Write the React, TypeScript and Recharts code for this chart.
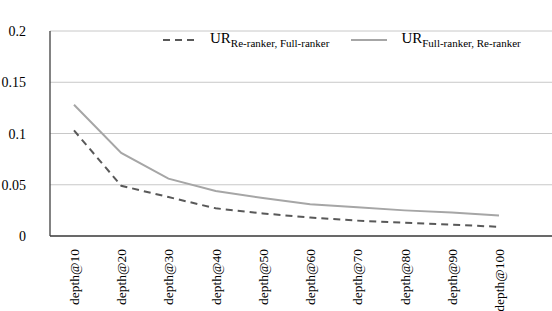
import React from "react";
import {
  LineChart,
  Line,
  XAxis,
  YAxis,
  CartesianGrid,
  Legend,
} from "recharts";

const depths = [
  "depth@10",
  "depth@20",
  "depth@30",
  "depth@40",
  "depth@50",
  "depth@60",
  "depth@70",
  "depth@80",
  "depth@90",
  "depth@100",
];

// UR_{Re-ranker, Full-ranker} (dashed)
const urReFull = [0.103, 0.049, 0.038, 0.027, 0.022, 0.018, 0.015, 0.013, 0.011, 0.009];
// UR_{Full-ranker, Re-ranker} (solid)
const urFullRe = [0.128, 0.081, 0.056, 0.044, 0.037, 0.031, 0.028, 0.025, 0.023, 0.02];

const yTicks = [0, 0.05, 0.1, 0.15, 0.2];

const data = depths.map((d, i) => ({
  depth: d,
  reFull: urReFull[i],
  fullRe: urFullRe[i],
}));

const FONT = "Liberation Serif";

const DepthTick = ({ x, y, payload }: any) => (
  <text
    x={0}
    y={0}
    transform={`translate(${x + 5},${y + 5}) rotate(-90)`}
    textAnchor="end"
    style={{ fontFamily: FONT, fontSize: 13.5 }}
    fill="#000"
  >
    {payload.value}
  </text>
);

const ValueTick = ({ x, y, payload }: any) => (
  <text
    x={x - 16}
    y={y}
    dy={5}
    textAnchor="end"
    style={{ fontFamily: FONT, fontSize: 14 }}
    fill="#000"
  >
    {payload.value}
  </text>
);

const LegendBox = () => (
  <div
    style={{
      display: "flex",
      alignItems: "center",
      fontFamily: FONT,
      fontSize: 15,
      color: "#000",
      whiteSpace: "nowrap",
    }}
  >
    <svg width={36} height={10} style={{ marginRight: 11 }}>
      <line x1={0} y1={5} x2={36} y2={5} stroke="#595959" strokeWidth={2} strokeDasharray="7 5" />
    </svg>
    <span style={{ fontFamily: FONT }}>
      UR<sub style={{ fontSize: 11, fontFamily: FONT }}>Re-ranker, Full-ranker</sub>
    </span>
    <svg width={36} height={10} style={{ marginLeft: 22, marginRight: 14 }}>
      <line x1={0} y1={5} x2={36} y2={5} stroke="#a6a6a6" strokeWidth={2} />
    </svg>
    <span style={{ fontFamily: FONT }}>
      UR<sub style={{ fontSize: 11, fontFamily: FONT }}>Full-ranker, Re-ranker</sub>
    </span>
  </div>
);

export default function App() {
  return (
    <div style={{ position: "absolute", left: 0, top: 0, width: 552, height: 311, background: "#fff" }}>
      <LineChart
        width={552}
        height={311}
        data={data}
        margin={{ top: 12, right: 0, bottom: 5, left: 0 }}
      >
        <CartesianGrid vertical={false} stroke="#c8c8c8" strokeWidth={1} />
        <XAxis
          dataKey="depth"
          interval={0}
          height={70}
          tick={<DepthTick />}
          tickLine={false}
          axisLine={{ stroke: "#404040", strokeWidth: 1.3 }}
          padding={{ left: 24, right: 53 }}
        />
        <YAxis
          domain={[0, 0.2]}
          ticks={yTicks}
          width={50}
          tickLine={false}
          axisLine={{ stroke: "#404040", strokeWidth: 1.3 }}
          tick={<ValueTick />}
        />
        <Legend
          verticalAlign="top"
          content={<LegendBox />}
          wrapperStyle={{ top: 30, left: 163, width: "auto" }}
        />
        <Line
          type="linear"
          dataKey="reFull"
          stroke="#595959"
          strokeWidth={2}
          strokeDasharray="7 5"
          dot={false}
          isAnimationActive={false}
        />
        <Line
          type="linear"
          dataKey="fullRe"
          stroke="#a6a6a6"
          strokeWidth={2}
          dot={false}
          isAnimationActive={false}
        />
      </LineChart>
    </div>
  );
}
